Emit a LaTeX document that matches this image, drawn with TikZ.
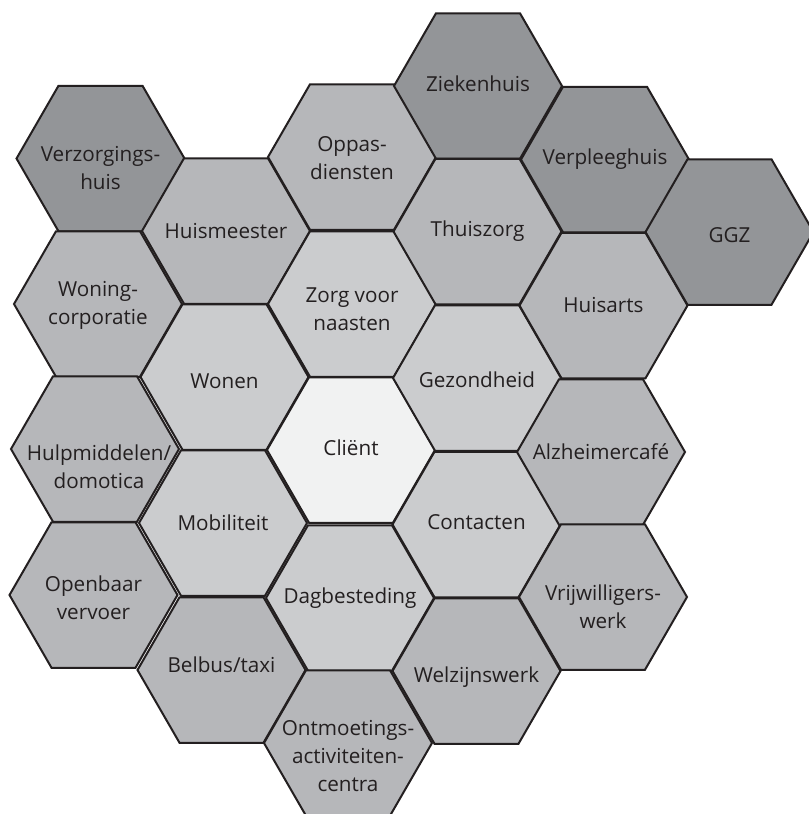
\documentclass[tikz,border=0pt]{standalone}
\usepackage{fontspec}
\setmainfont{Open Sans}
\usetikzlibrary{shapes.geometric}
\definecolor{hexline}{HTML}{231F20}
\definecolor{hexdark}{HTML}{939598}
\definecolor{hexmid}{HTML}{B6B7BA}
\definecolor{hexlight}{HTML}{CBCCCE}
\definecolor{hexcore}{HTML}{F1F2F2}
\tikzstyle{hex} = [regular polygon, regular polygon sides=6, minimum size=126pt, inner sep=0pt, outer sep=0pt, draw=hexline, line width=1.5pt, line join=miter]
\tikzstyle{dark} = [hex, fill=hexdark]
\tikzstyle{mid} = [hex, fill=hexmid]
\tikzstyle{light} = [hex, fill=hexlight]
\tikzstyle{core} = [hex, fill=hexcore]
\tikzstyle{txt} = [align=center, text=hexline, inner sep=0pt, font=\fontsize{15.5}{21}\selectfont]
\begin{document}
\begin{tikzpicture}[x=0.75pt, y=-0.75pt]
    \useasboundingbox (0,0) rectangle (808,814);
    % hexagons, column by column
    \node (verz)[dark] at (100.5,158.5) {};
    \node (woning)[mid] at (98,304) {};
    \node (hulp)[mid] at (95,449) {};
    \node (openbaar)[mid] at (93.5,595) {};
    \node (huismeester)[mid] at (226,231) {};
    \node (wonen)[light] at (224.5,377) {};
    \node (mobiliteit)[light] at (223,523) {};
    \node (belbus)[mid] at (221.5,670) {};
    \node (oppas)[mid] at (352,157) {};
    \node (zorg)[light] at (352,304) {};
    \node (client)[core] at (351,450) {};
    \node (dag)[light] at (350,598) {};
    \node (ontmoeting)[mid] at (348,743) {};
    \node (ziekenhuis)[dark] at (478,86) {};
    \node (thuiszorg)[mid] at (477.5,231.5) {};
    \node (gezondheid)[light] at (477,378) {};
    \node (contacten)[light] at (476.5,524.5) {};
    \node (welzijn)[mid] at (476.5,671) {};
    \node (verpleeg)[dark] at (605,159.5) {};
    \node (huisarts)[mid] at (603.5,305.5) {};
    \node (alzheimer)[mid] at (601,452) {};
    \node (vrijwillig)[mid] at (603,597) {};
    \node (ggz)[dark] at (729.5,232) {};
    % labels
    \node (t-verz)[txt] at ([yshift=-7pt]verz.center) {Verzorgings-\\huis};
    \node (t-woning)[txt] at ([yshift=-1pt]woning.center) {Woning-\\corporatie};
    \node (t-hulp)[txt] at ([xshift=3pt, yshift=-13pt]hulp.center) {Hulpmiddelen/\\domotica};
    \node (t-openbaar)[txt] at ([yshift=-2pt]openbaar.center) {Openbaar\\vervoer};
    \node (t-huismeester)[txt] at (huismeester.center) {Huismeester};
    \node (t-wonen)[txt] at ([yshift=-3pt]wonen.center) {Wonen};
    \node (t-mobiliteit)[txt] at (mobiliteit.center) {Mobiliteit};
    \node (t-belbus)[txt] at ([yshift=4pt]belbus.center) {Belbus/taxi};
    \node (t-oppas)[txt] at ([yshift=-1pt]oppas.center) {Oppas-\\diensten};
    \node (t-zorg)[txt] at ([yshift=-4pt]zorg.center) {Zorg voor\\naasten};
    \node (t-client)[txt] at ([yshift=1.5pt]client.center) {Cliënt};
    \node (t-dag)[txt] at (dag.center) {Dagbesteding};
    \node (t-ontmoeting)[txt] at ([yshift=-10pt]ontmoeting.center) {Ontmoetings-\\activiteiten-\\centra};
    \node (t-ziekenhuis)[txt] at ([yshift=2pt]ziekenhuis.center) {Ziekenhuis};
    \node (t-thuiszorg)[txt] at (thuiszorg.center) {Thuiszorg};
    \node (t-gezondheid)[txt] at ([yshift=-1.5pt]gezondheid.center) {Gezondheid};
    \node (t-contacten)[txt] at ([yshift=2pt]contacten.center) {Contacten};
    \node (t-welzijn)[txt] at ([yshift=-4.5pt]welzijn.center) {Welzijnswerk};
    \node (t-verpleeg)[txt] at (verpleeg.center) {Verpleeghuis};
    \node (t-huisarts)[txt] at (huisarts.center) {Huisarts};
    \node (t-alzheimer)[txt] at (alzheimer.center) {Alzheimercafé};
    \node (t-vrijwillig)[txt] at ([yshift=-7pt]vrijwillig.center) {Vrijwilligers-\\werk};
    \node (t-ggz)[txt] at ([yshift=-2pt]ggz.center) {GGZ};
\end{tikzpicture}
\end{document}
